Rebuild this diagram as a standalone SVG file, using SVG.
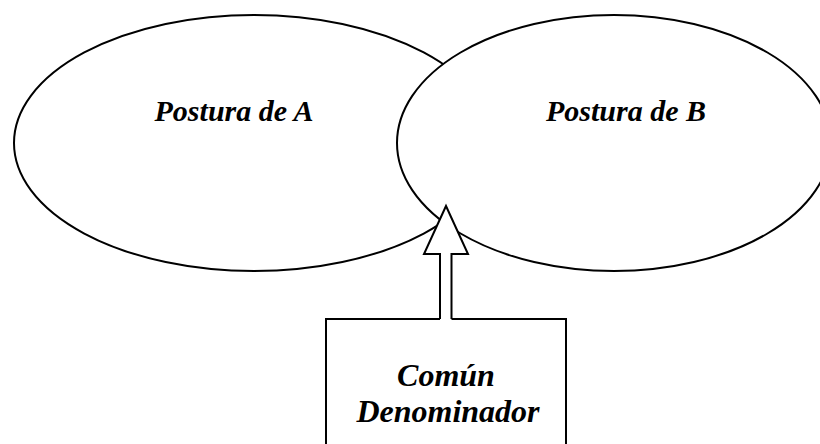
<svg xmlns="http://www.w3.org/2000/svg" width="820" height="444" viewBox="0 0 820 444">
<style>
.shape{fill:#fff;stroke:#000;stroke-width:2}
.lbl{font-family:"Liberation Serif","Times New Roman",serif;font-weight:bold;font-style:italic;font-size:30px;fill:#000;text-anchor:middle}
.big{font-size:32px}
</style>
<rect x="0" y="0" width="820" height="444" fill="#fff"/>
<g id="postura-a">
<ellipse class="shape" cx="254" cy="143" rx="240" ry="128"/>
<text class="lbl" x="234" y="121">Postura de A</text>
</g>
<g id="postura-b">
<ellipse class="shape" cx="614" cy="143" rx="217" ry="128"/>
<text class="lbl" x="626" y="121">Postura de B</text>
</g>
<g id="comun-denominador">
<rect class="shape" x="326" y="319" width="240" height="140"/>
<text class="lbl big" x="446" y="386">Común</text>
<text class="lbl big" x="448" y="422">Denominador</text>
</g>
<g id="connectors">
<polygon points="440,321 440,254 424,254 446,206 468,254 451.5,254 451.5,321" fill="#fff" stroke="none"/>
<polyline points="440,319 440,254 424,254 446,206 468,254 451.5,254 451.5,319" fill="none" stroke="#000" stroke-width="2" stroke-linejoin="miter"/>
</g>
</svg>
